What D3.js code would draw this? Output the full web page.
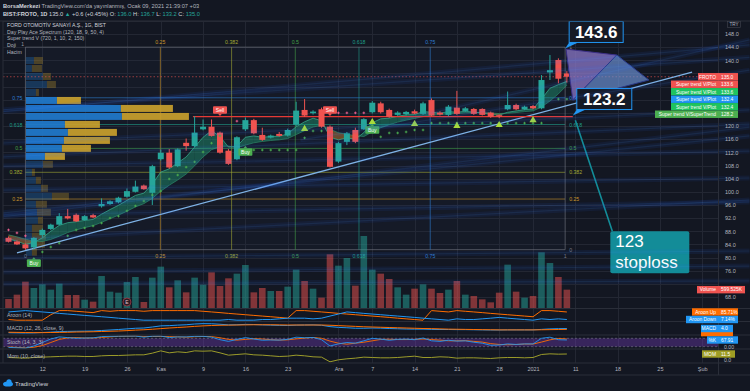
<!DOCTYPE html>
<html><head><meta charset="utf-8">
<script src="https://cdn.jsdelivr.net/npm/d3@7/dist/d3.min.js"></script>
<style>
html,body{margin:0;padding:0;background:#131722;}
svg{display:block;}
text{font-family:"Liberation Sans",Arial,sans-serif;}
</style></head><body>
<svg id="chart" width="750" height="391"></svg>
<script>
// ================= DATA =================
const opens  = [86.0,84.9,84.0,83.1,86.8,88.7,90.0,92.6,93.0,91.4,92.9,95.6,96.3,96.8,98.5,100.0,101.9,99.7,109.9,111.9,107.8,114.9,113.9,119.0,119.8,118.0,112.5,109.9,119.0,121.8,117.3,116.5,117.6,117.1,120.4,124.9,123.9,125.1,119.8,109.2,115.2,118.8,119.0,124.2,126.9,124.9,123.4,123.6,124.5,123.7,127.9,124.1,123.4,125.6,124.6,125.2,125.2,124.1,123.3,125.1,126.4,125.1,126.1,125.4,136.3,140.1,136.0];
const highs  = [86.4,85.2,84.3,86.2,88.8,90.3,93.5,94.8,93.4,92.9,93.3,98.0,97.4,98.5,101.0,103.4,102.2,108.2,112.8,113.0,113.2,116.2,123.0,122.0,122.0,118.3,113.0,116.9,122.6,122.2,119.5,117.4,118.2,119.2,127.4,128.2,124.8,125.6,120.2,115.2,118.2,119.5,122.4,127.6,127.4,125.3,124.5,124.6,125.0,127.4,128.4,124.5,126.4,130.7,125.8,125.5,125.4,124.4,123.5,130.5,126.8,126.2,126.4,135.5,141.6,140.6,136.7];
const lows   = [84.6,83.8,82.4,82.5,86.2,88.3,89.8,91.6,90.8,91.2,92.0,95.2,96.0,96.5,98.2,99.8,100.6,96.0,109.5,107.0,107.5,112.5,113.6,118.7,116.8,111.6,108.2,109.6,118.5,117.5,115.5,116.2,116.8,116.8,120.0,122.8,123.5,119.5,107.4,108.8,114.2,114.8,118.8,123.8,123.8,122.5,123.1,123.2,123.6,123.4,123.0,123.2,123.0,123.4,124.3,123.4,123.2,122.5,122.4,124.8,124.8,124.8,125.1,125.1,134.0,133.0,133.2];
const closes = [84.8,84.0,82.8,86.0,88.4,90.0,92.6,91.9,91.0,92.6,92.2,96.3,97.1,98.2,100.2,101.6,100.8,107.8,111.9,107.4,112.9,113.9,118.0,119.8,117.0,111.9,108.5,116.6,121.8,117.8,115.8,117.1,117.0,118.8,124.7,123.2,124.4,119.8,107.6,114.8,117.8,115.2,122.1,127.1,124.2,122.8,124.1,124.3,123.8,126.9,123.2,123.5,125.9,123.7,125.4,123.7,123.4,122.8,122.9,126.4,125.1,125.9,125.4,134.0,137.0,134.4,135.0];
const volumes = [294,436,861,654,774,600,796,425,425,272,207,1046,534,501,850,1014,196,992,1352,676,905,512,992,763,1166,719,970,1123,1406,512,654,556,556,698,1253,883,632,338,1755,1384,1635,730,2354,1253,1123,948,676,436,632,774,632,491,600,883,436,392,283,185,501,1417,534,338,392,1820,1471,1014,599.525];

const fastBand = [85.6,85.0,84.0,84.6,86.0,88.0,89.8,90.6,90.9,91.3,91.6,93.2,94.6,95.9,97.4,98.9,99.6,102.4,106.0,107.0,108.8,110.6,113.6,116.6,118.6,116.8,113.6,113.8,116.6,117.0,116.6,116.8,116.9,117.6,119.8,121.3,122.4,121.6,116.6,115.8,116.4,116.0,118.0,121.0,122.2,122.4,123.0,123.4,123.5,124.4,124.2,123.9,124.4,124.2,124.5,124.2,124.0,123.5,123.3,124.2,124.6,125.0,125.2,128.2,131.5,132.6,133.6];
const slowBand = [86.9,86.3,85.6,85.0,84.9,85.5,86.5,87.6,88.4,89.1,89.7,90.7,91.8,92.9,94.1,95.4,96.4,98.0,100.2,102.0,103.6,105.4,107.9,110.6,112.8,113.8,113.9,113.4,114.2,114.9,115.3,115.6,115.8,116.2,117.4,118.6,119.7,120.2,119.0,118.0,117.5,117.1,116.8,118.2,119.5,120.4,121.2,121.8,122.3,122.9,123.3,123.5,123.7,123.8,124.0,124.1,124.1,124.0,123.8,123.9,124.1,124.4,124.6,125.8,127.6,129.8,132.4];
const trailStop = [88.4,87.5,86.6,null,81.7,83.2,84.4,86.6,88.4,89.0,89.6,90.5,92.0,92.6,94.2,95.7,97.2,99.0,100.2,103.9,105.1,107.5,109.1,112.1,114.8,117.0,null,121.5,null,112.7,112.7,112.7,112.7,112.7,112.7,116.4,118.5,118.5,124.0,124.0,124.0,124.0,124.0,null,116.7,117.9,117.9,118.2,118.8,118.8,120.9,120.9,120.9,120.9,120.9,120.9,120.9,120.9,120.9,120.9,120.9,120.9,120.9,120.9,null,128.2,128.2];
const trailDir  = [0,0,0,null,1,1,1,1,1,1,1,1,1,1,1,1,1,1,1,1,1,1,1,1,1,1,null,0,null,1,1,1,1,1,1,1,1,1,0,0,0,0,0,null,1,1,1,1,1,1,1,1,1,1,1,1,1,1,1,1,1,1,1,1,null,1,1];
const triangleIdx   = [35,43,48,53,58,62];
const trianglePrice = [119.4,121.5,120.9,120.3,120.6,122.1];
const signalIdx   = [3,25,28,38,43];
const signalType  = ['Buy','Sell','Buy','Sell','Buy'];
const signalPrice = [78.3,124.9,112.1,124.9,118.8];

const aroonUp   = [7,0,0,0,0,57,100,100,93,86,79,100,93,100,100,100,93,100,100,100,100,100,100,93,86,79,71,64,57,50,43,36,29,21,100,100,93,86,79,71,64,57,50,43,36,29,21,14,7,0,100,93,86,100,93,86,79,71,64,57,50,43,36,100,100,93,85.71];
const aroonDown = [86,93,100,93,86,79,71,64,57,50,43,36,29,21,14,7,0,0,0,0,0,0,0,0,0,0,7,0,0,0,7,7,14,21,21,21,14,21,43,64,86,79,71,64,57,50,43,36,29,21,14,7,0,14,7,7,14,21,29,21,14,7,0,14,7,14,7.14];
const macdLine  = [0.6,0.5,0.4,0.5,0.8,1.1,1.5,1.7,1.8,1.9,2.0,2.4,2.8,3.2,3.7,4.2,4.4,5.2,6.1,6.3,6.7,7.0,7.6,7.9,7.8,7.4,6.9,7.0,7.3,7.2,6.9,6.7,6.5,6.4,6.7,6.8,6.9,6.6,5.5,4.9,4.6,4.2,4.2,4.4,4.3,4.0,3.8,3.6,3.5,3.5,3.3,3.2,3.2,3.1,3.1,3.0,2.9,2.8,2.8,2.9,2.9,2.9,2.9,3.3,3.7,3.9,4.0];
const macdSignal= [1.0,0.9,0.8,0.7,0.7,0.8,0.9,1.0,1.2,1.3,1.4,1.6,1.8,2.0,2.3,2.7,3.0,3.4,3.9,4.4,4.8,5.2,5.7,6.1,6.4,6.6,6.7,6.8,6.9,7.0,7.0,7.0,6.9,6.8,6.8,6.8,6.8,6.8,6.6,6.3,6.0,5.7,5.4,5.2,5.0,4.8,4.6,4.4,4.2,4.0,3.9,3.7,3.5,3.4,3.3,3.2,3.1,3.0,2.9,2.9,2.9,2.9,2.9,3.0,3.1,3.2,3.3];
const stochK    = [15,12,10,25,50,75,90,85,80,82,83,92,94,95,96,96,88,95,96,85,90,90,94,94,88,70,58,72,85,75,66,68,67,72,88,84,86,70,25,40,50,45,62,80,74,66,72,74,70,82,62,58,66,60,62,52,45,30,32,40,36,40,40,80,88,70,67.91];
const stochD    = [18,15,12,16,28,50,72,83,85,82,82,86,90,94,95,96,93,93,93,92,90,88,91,93,92,84,72,67,72,77,75,70,67,69,76,81,86,80,60,45,38,45,52,62,72,73,71,71,72,75,71,67,62,62,63,58,53,42,36,34,36,39,39,53,69,79,75];
const momentum  = [1,0,-1,1,2,3,4,5,5,4,4,6,7,7,8,9,9,14,21,15,18,16,21,20,21,15,8,10,12,9,8,6,4,5,8,6,3,2,-12,-6,-3,-1,2,1,0,0,1,3,5,1,1,3,2,-1,0,0,-1,-2,0,1,1,0,1,10,12,11,11.5];

const priceTicks = [68,72,76,80,84,88,92,96,100,104,108,112,116,120,124,128,132,136,140,144,148,152];
const timeTickIdx    = [4,9,14,18,23,28,33,39,43,48,53,58,62,67,72,77,82];
const timeTickLabels = ["12","19","26","Kas","9","16","23","Ara","7","14","21","28","2021","11","18","25","Şub"];

const vpTop = 141.0, vpStep = 2.43;
const vpUp   = [8,6,17,21,10,31,95,96,39,42,38,36,19,17,6,10,15,26,10,11,12,6,6,7,6];
const vpDown = [9,10,8,9,3,24,52,67,35,49,46,29,20,10,3,5,7,17,11,14,5,11,14,12,5];
const vpValueArea = [5,12];

const gannLevels = [0,0.25,0.382,0.5,0.618,0.75,1];
const gannColors = ['#787b86','#c9952a','#a2a833','#43a047','#1f9d88','#2f7dd1','#787b86'];
const gannStart = [2,82.4], gannEnd = [65.8,144.0];

const glowLines = [[-1,110.6,87.6,120.6],[-1,107.8,87.6,112.4],[-1,100.5,87.6,104.2],[-1,92.9,87.6,96.9],[-1,79.9,87.6,82.0],[-1,75.6,87.6,77.4],[-1,72.0,87.6,72.9],[-1,124.9,87.6,140.9],[-1,92.3,87.6,119.7],[-1,85.3,87.6,97.5],[-1,114.8,87.6,124.9],[-1,124.3,87.6,144.7],[-1,93.5,87.6,117.0],[46.3,121.8,87.6,146.2],[34.5,115.8,87.6,137.0]];

const stopLevel = 122.85;
const trendLine = [1.0,81.4,80.8,136.4];

// ================= CHART =================
const W=750,H=391, PL=3, PR=718, PT=21, PB=308;
const FONT='"Liberation Sans",Arial,sans-serif';
const UP='#26a69a', DN='#ef5350';
const N = closes.length;
const svg=d3.select('#chart');
svg.append('rect').attr('width',W).attr('height',H).attr('fill','#131722');
const defs=svg.append('defs');
defs.append('clipPath').attr('id','mainClip').append('rect').attr('x',PL).attr('y',PT).attr('width',PR-PL).attr('height',PB-PT);
defs.append('clipPath').attr('id','wideClip').append('rect').attr('x',PL).attr('y',PT).attr('width',W-PL).attr('height',PB-PT);

const x=d3.scaleLinear().domain([0,66]).range([8.5,566.86]);
const y=d3.scaleLinear().domain([68,148]).range([297,34]);
const yVol=d3.scaleLinear().domain([0,d3.max(volumes)]).range([PB,236]);

// grid
const grid=svg.append('g');
grid.selectAll('line.gh').data(priceTicks).join('line').attr('class','gh')
  .attr('x1',PL).attr('x2',PR).attr('y1',d=>Math.round(y(d))+0.5).attr('y2',d=>Math.round(y(d))+0.5)
  .attr('stroke','#232733');
grid.selectAll('line.gv').data(timeTickIdx).join('line').attr('class','gv')
  .attr('x1',d=>Math.round(x(d))+0.5).attr('x2',d=>Math.round(x(d))+0.5).attr('y1',PT).attr('y2',363)
  .attr('stroke','#232733');

const main=svg.append('g').attr('clip-path','url(#mainClip)');

// gann box
const gx0=x(gannStart[0]), gx1=x(gannEnd[0]), gy0=y(gannStart[1]), gy1=y(gannEnd[1]);
main.append('rect').attr('x',gx0).attr('y',gy1).attr('width',gx1-gx0).attr('height',gy0-gy1).attr('fill','#2a3550').attr('fill-opacity',0.12);
gannLevels.forEach((l,k)=>{
  const gx=gx0+l*(gx1-gx0), gy=gy0+l*(gy1-gy0);
  main.append('line').attr('x1',gx).attr('x2',gx).attr('y1',gy1).attr('y2',gy0).attr('stroke',gannColors[k]).attr('stroke-opacity',0.6);
  main.append('line').attr('x1',gx0).attr('x2',gx1).attr('y1',gy).attr('y2',gy).attr('stroke',gannColors[k]).attr('stroke-opacity',0.6);
  const lab=String(l);
  const t=main.append('g').attr('font-size',5.2).attr('fill',gannColors[k]).attr('font-family',FONT);
  if(l>0&&l<1){ t.append('text').attr('x',gx).attr('y',gy1-3).attr('text-anchor','middle').text(lab); }
  t.append('text').attr('x',gx).attr('y',gy0+8).attr('text-anchor','middle').text(lab);
  if(l>0&&l<1){ t.append('text').attr('x',gx0-3).attr('y',gy+2).attr('text-anchor','end').text(lab); }
  t.append('text').attr('x',gx1+4).attr('y',gy+2).attr('text-anchor','start').text(lab);
});
main.append('text').attr('x',gx0-1.5).attr('y',gy1-0.8).attr('text-anchor','end').attr('font-size',5).attr('fill','#9598a1').attr('font-family',FONT).text('1');

// glow lines
const glow=svg.append('g').attr('clip-path','url(#wideClip)');
glowLines.forEach(([i0,p0,i1,p1])=>{
  glow.append('line').attr('x1',x(i0)).attr('y1',y(p0)).attr('x2',x(i1)).attr('y2',y(p1))
    .attr('stroke','#2962ff').attr('stroke-opacity',0.08).attr('stroke-width',5);
  glow.append('line').attr('x1',x(i0)).attr('y1',y(p0)).attr('x2',x(i1)).attr('y2',y(p1))
    .attr('stroke','#4f9bff').attr('stroke-opacity',0.1).attr('stroke-width',1.2);
});

// volume profile
const vpW=d3.scaleLinear().domain([0,163]).range([0,163]);
vpUp.forEach((u,k)=>{
  const pTop=vpTop-k*vpStep, pBot=pTop-vpStep;
  const yt=y(pTop), h=y(pBot)-y(pTop)-1;
  const inVA = k>=vpValueArea[0] && k<=vpValueArea[1];
  const op = inVA?0.92:0.3;
  main.append('rect').attr('x',gx0+0.5).attr('y',yt).attr('width',vpW(u)).attr('height',h).attr('fill','#2179cc').attr('fill-opacity',op);
  main.append('rect').attr('x',gx0+0.5+vpW(u)).attr('y',yt).attr('width',vpW(vpDown[k])).attr('height',h).attr('fill','#c9a02c').attr('fill-opacity',op);
});

// volume bars
main.selectAll('rect.vol').data(volumes).join('rect').attr('class','vol')
  .attr('x',(d,i)=>x(i)-3.3).attr('width',6.6)
  .attr('y',d=>yVol(d)).attr('height',d=>PB-yVol(d))
  .attr('fill',(d,i)=>closes[i]>=opens[i]?UP:DN).attr('fill-opacity',0.5);

// price line
main.append('line').attr('x1',PL).attr('x2',PR).attr('y1',y(closes[N-1])).attr('y2',y(closes[N-1]))
  .attr('stroke',DN).attr('stroke-opacity',0.6).attr('stroke-dasharray','1.5,2');

// ribbon
const rib=main.append('g');
function poly(pts,up){ rib.append('path').attr('d','M'+pts.map(p=>p.join(',')).join('L')+'Z')
  .attr('fill',up?'#1fa37a':'#c47a2c').attr('fill-opacity',up?0.42:0.5); }
for(let i=0;i<N-1;i++){
  const a0=fastBand[i],b0=slowBand[i],a1=fastBand[i+1],b1=slowBand[i+1];
  const d0=a0-b0,d1=a1-b1, X0=x(i),X1=x(i+1);
  if(d0*d1>=0){ poly([[X0,y(a0)],[X1,y(a1)],[X1,y(b1)],[X0,y(b0)]],(d0+d1)>=0); }
  else{ const t=d0/(d0-d1), Xc=X0+t*(X1-X0), Pc=a0+t*(a1-a0);
    poly([[X0,y(a0)],[Xc,y(Pc)],[X0,y(b0)]],d0>0); poly([[Xc,y(Pc)],[X1,y(a1)],[X1,y(b1)]],d1>0); }
}
rib.append('path').datum(fastBand).attr('d',d3.line().x((d,i)=>x(i)).y(d=>y(d))).attr('fill','none').attr('stroke','#3fbf9a').attr('stroke-width',0.8).attr('stroke-opacity',0.8);
rib.append('path').datum(slowBand).attr('d',d3.line().x((d,i)=>x(i)).y(d=>y(d))).attr('fill','none').attr('stroke','#2e8f6e').attr('stroke-width',0.8).attr('stroke-opacity',0.8);

// trend line & stop line
main.append('line').attr('x1',x(trendLine[0])).attr('y1',y(trendLine[1])).attr('x2',x(trendLine[2])).attr('y2',y(trendLine[3]))
  .attr('stroke','#7fb3e6').attr('stroke-width',1.3);
main.append('line').attr('x1',x(21.8)).attr('x2',x(66.7)).attr('y1',y(stopLevel)).attr('y2',y(stopLevel))
  .attr('stroke','#e53935').attr('stroke-width',1.2);

// candles
const cg=main.append('g');
cg.selectAll('line.wick').data(closes).join('line').attr('class','wick')
  .attr('x1',(d,i)=>x(i)).attr('x2',(d,i)=>x(i)).attr('y1',(d,i)=>y(highs[i])).attr('y2',(d,i)=>y(lows[i]))
  .attr('stroke',(d,i)=>d>=opens[i]?UP:DN).attr('stroke-width',1);
cg.selectAll('rect.body').data(closes).join('rect').attr('class','body')
  .attr('x',(d,i)=>x(i)-3).attr('width',6)
  .attr('y',(d,i)=>y(Math.max(d,opens[i])))
  .attr('height',(d,i)=>Math.max(1,Math.abs(y(d)-y(opens[i]))))
  .attr('fill',(d,i)=>d>=opens[i]?UP:DN);

// trailing dots
trailStop.forEach((v,i)=>{
  if(v==null) return;
  const c=trailDir[i]?'#4caf50':'#f06292';
  main.append('path').attr('d',`M${x(i)-1.3},${y(v)}h2.6M${x(i)},${y(v)-1.3}v2.6`).attr('stroke',c).attr('stroke-width',0.9);
});
// triangles
triangleIdx.forEach((ii,k)=>{
  const cx=x(ii), cy=y(trianglePrice[k]);
  main.append('path').attr('d',`M${cx-3.6},${cy+3}L${cx+3.6},${cy+3}L${cx},${cy-3.2}Z`).attr('fill','#a8dc3c');
});
// signals
signalIdx.forEach((ii,k)=>{
  const cx=x(ii), cy=y(signalPrice[k]), sell=signalType[k]==='Sell';
  const col=sell?'#ef5350':'#4caf50';
  main.append('rect').attr('x',cx-7).attr('y',cy-3.8).attr('width',14).attr('height',7.6).attr('rx',1).attr('fill',col);
  main.append('path').attr('d',sell?`M${cx-2},${cy+3.7}L${cx+2},${cy+3.7}L${cx},${cy+6}Z`:`M${cx-2},${cy-3.7}L${cx+2},${cy-3.7}L${cx},${cy-6}Z`).attr('fill',col);
  main.append('text').attr('x',cx).attr('y',cy+1.8).attr('text-anchor','middle').attr('font-size',5).attr('fill','#fff').attr('font-family',FONT).text(signalType[k]);
});
// earnings marker
main.append('circle').attr('cx',x(14)).attr('cy',302).attr('r',4).attr('fill','#2a1c24').attr('stroke','#a33a45').attr('stroke-width',0.8);
main.append('text').attr('x',x(14)).attr('y',303.8).attr('text-anchor','middle').attr('font-size',5).attr('fill','#e0c0c4').attr('font-family',FONT).text('E');

// drawings: triangles
const pX=[65.9,143.4], pA=[66.7,127.9], pB=[71.9,141.6], pC=[75.7,134.0];
const P=p=>[x(p[0]),y(p[1])];
main.append('path').attr('d','M'+[P(pX),P(pB),P(pA)].map(p=>p.join(',')).join('L')+'Z').attr('fill','#8b78c9').attr('fill-opacity',0.75).attr('stroke','#3b2f86').attr('stroke-width',1);
main.append('path').attr('d','M'+[P(pA),P(pB),P(pC)].map(p=>p.join(',')).join('L')+'Z').attr('fill','#6a8fd0').attr('fill-opacity',0.7).attr('stroke','#2a3a8a').attr('stroke-width',1);

// callouts
function callout(ai,ap,dx,dy,w,h,txt){
  const ax=x(ai), ay=y(ap), bx=ax+dx, by=ay+dy;
  main.append('path').attr('d',`M${bx},${by+h}L${bx+9},${by+h}L${ax},${ay}Z`).attr('fill','#2196f3');
  main.append('rect').attr('x',bx).attr('y',by).attr('width',w).attr('height',h).attr('fill','#151a26').attr('stroke','#2196f3').attr('stroke-width',1);
  main.append('text').attr('x',bx+w/2).attr('y',by+h/2+6).attr('text-anchor','middle').attr('font-size',17).attr('font-weight','bold').attr('fill','#fff').attr('font-family',FONT).text(txt);
}
callout(65.8,143.6,4,-27,54,21,'143.6');
callout(66.7,123.2,4,-27,55,21,'123.2');

// stoploss callout
const sAx=x(67.0), sAy=y(121.8);
main.append('line').attr('x1',sAx).attr('y1',sAy).attr('x2',sAx+37).attr('y2',sAy+111).attr('stroke','#138c98').attr('stroke-width',1.6);
main.append('rect').attr('x',sAx+35).attr('y',sAy+111).attr('width',79).attr('height',42).attr('rx',2).attr('fill','#138c98');
main.append('text').attr('x',sAx+40).attr('y',sAy+127.2).attr('font-size',17).attr('fill','#fff').attr('font-family',FONT).text('123');
main.append('text').attr('x',sAx+40).attr('y',sAy+147.7).attr('font-size',17).attr('fill','#fff').attr('font-family',FONT).text('stoploss');

// ================= SUB PANES =================
const aroonY=d3.scaleLinear().domain([0,100]).range([320.2,310.6]);
const macdY =d3.scaleLinear().domain([0,8]).range([333.5,323.5]);
const stochY=d3.scaleLinear().domain([0,100]).range([349.5,335.5]);
const momY  =d3.scaleLinear().domain([-12,11.5]).range([361.8,354]);
const sub=svg.append('g');
function ln(arr,sc,col,w){ sub.append('path').datum(arr).attr('d',d3.line().x((d,i)=>x(i)).y(d=>sc(d))).attr('fill','none').attr('stroke',col).attr('stroke-width',w||1); }
sub.append('rect').attr('x',PL).attr('y',stochY(80)).attr('width',PR-PL).attr('height',stochY(20)-stochY(80)).attr('fill','#7e3fc8').attr('fill-opacity',0.35);
[80,20].forEach(v=>sub.append('line').attr('x1',PL).attr('x2',PR).attr('y1',stochY(v)).attr('y2',stochY(v)).attr('stroke','#787b86').attr('stroke-dasharray','2,2').attr('stroke-width',0.6));
ln(aroonUp,aroonY,'#ff6d00'); ln(aroonDown,aroonY,'#2196f3');
ln(macdLine,macdY,'#2196f3'); ln(macdSignal,macdY,'#ff6d00');
ln(stochD,stochY,'#ff6d00',0.9); ln(stochK,stochY,'#2196f3',0.9);
ln(momentum,momY,'#9c9c2a',1);

const labs=[['Aroon (14)',316.5],['MACD (12, 26, close, 9)',330],['Stoch (14, 3, 3)',344],['Mom (10, close)',358]];
labs.forEach(([t,yy])=>sub.append('text').attr('x',7).attr('y',yy).attr('font-size',5.3).attr('fill','#b2b5be').attr('font-family',FONT).text(t));

[PT,308.5,321.5,335,349,363,375].forEach(v=>svg.append('line').attr('x1',0).attr('x2',W).attr('y1',v).attr('y2',v).attr('stroke','#2a2e39').attr('stroke-width',1));
svg.append('line').attr('x1',PR+0.5).attr('x2',PR+0.5).attr('y1',PT).attr('y2',375).attr('stroke','#2a2e39');
svg.append('line').attr('x1',PL).attr('x2',PL).attr('y1',PT).attr('y2',363).attr('stroke','#2a2e39');

// tags (computed first so axis labels under them can be hidden)
const tagList=[];
const stTags=[['FROTO',closes[N-1],698,'#ef5350'],['Super trend V/Plot',fastBand[N-1],671,'#ef5350'],['Super trend V/Plot',fastBand[N-1],671,'#1fc35f'],['Super trend V/Plot',slowBand[N-1],671,'#2196f3'],['Super trend V/Plot',slowBand[N-1],671,'#1fc35f'],['Super trend V/SuperTrend',trailStop[N-1],655,'#4caf50']];
let prevY=-1e9;
stTags.forEach(([l,v,x0,c])=>{ const yy=Math.max(y(v),prevY+7.5); prevY=yy; tagList.push([yy,x0,738,c,l,v.toFixed(1)]); });
tagList.push([yVol(volumes[N-1]),697,745,'#ef5350','Volume','599.525K']);

// price axis
defs.append('clipPath').attr('id','axClip').append('rect').attr('x',PR).attr('y',PT-1).attr('width',W-PR).attr('height',PB-PT+1);
const visTicks=priceTicks.filter(p=>y(p)>28 && !tagList.some(t=>Math.abs(t[0]-y(p))<7));
const ga=svg.append('g').attr('clip-path','url(#axClip)').append('g').attr('transform',`translate(${PR},0)`)
  .call(d3.axisRight(y).tickValues(visTicks).tickFormat(d3.format('.1f')).tickSize(0).tickPadding(7));
ga.select('.domain').remove();
ga.attr('font-size',5.5).attr('font-family',FONT);
ga.selectAll('text').attr('fill','#b2b5be');

// time axis
const gt=svg.append('g').attr('transform','translate(0,363)')
  .call(d3.axisBottom(x).tickValues(timeTickIdx).tickFormat((d,k)=>timeTickLabels[k]).tickSize(0).tickPadding(4));
gt.select('.domain').remove();
gt.attr('font-size',5.5).attr('font-family',FONT);
gt.selectAll('text').attr('fill','#b2b5be');

function tag(yc,x0,x1,fill,label,val,tc){
  svg.append('rect').attr('x',x0).attr('y',yc-3.7).attr('width',x1-x0).attr('height',7.4).attr('fill',fill);
  if(label==null) return;
  svg.append('text').attr('x',PR-2).attr('y',yc+1.8).attr('text-anchor','end').attr('font-size',4.9).attr('fill',tc||'#fff').attr('font-family',FONT).text(label);
  svg.append('text').attr('x',PR+3).attr('y',yc+1.8).attr('font-size',4.9).attr('fill',tc||'#fff').attr('font-family',FONT).text(val);
}
tagList.forEach(t=>tag(...t));
tag(aroonY(aroonUp[N-1]),692,738,'#ff6d00','Aroon Up',aroonUp[N-1].toFixed(2)+'%');
tag(aroonY(aroonDown[N-1]),686,738,'#2196f3','Aroon Down',aroonDown[N-1].toFixed(2)+'%');
tag(332.6,701,733,'#ff6d00',null,null);
tag(macdY(macdLine[N-1]),701,733,'#2196f3','MACD',macdLine[N-1].toFixed(1));
tag(stochY(stochK[N-1]),707,738,'#2196f3','%K',stochK[N-1].toFixed(2));
svg.append('text').attr('x',724).attr('y',349.2).attr('font-size',5.2).attr('fill','#b2b5be').attr('font-family',FONT).text('0.00');
tag(momY(momentum[N-1]),702,735,'#9e9d24','MOM',momentum[N-1].toFixed(1));
svg.append('text').attr('x',724).attr('y',361.5).attr('font-size',5.2).attr('fill','#b2b5be').attr('font-family',FONT).text('0.0');

// TRY box
svg.append('rect').attr('x',727.5).attr('y',21.5).attr('width',13).attr('height',6).attr('fill','#131722').attr('stroke','#434651').attr('stroke-width',0.6);
svg.append('text').attr('x',734).attr('y',26.3).attr('text-anchor','middle').attr('font-size',4.6).attr('fill','#b2b5be').attr('font-family',FONT).text('TRY');

// header
const h1=svg.append('text').attr('x',3).attr('y',7.5).attr('font-size',5.7).attr('font-family',FONT).attr('fill','#b2b5be');
h1.append('tspan').attr('font-weight','bold').attr('fill','#d1d4dc').text('BorsaMerkezi');
h1.append('tspan').text(" TradingView.com'da yayınlanmış, Ocak 09, 2021 21:39:07 +03");
const h2=svg.append('text').attr('x',3).attr('y',16).attr('font-size',5.7).attr('font-family',FONT).attr('fill','#d1d4dc');
h2.append('tspan').attr('font-weight','bold').text('BIST:FROTO, 1D');
h2.append('tspan').text('  135.0 ');
h2.append('tspan').attr('fill',UP).text('▲');
h2.append('tspan').text(' +0.6 (+0.45%)  O: ');
h2.append('tspan').attr('fill',UP).text('136.0');
h2.append('tspan').text(' H: ');
h2.append('tspan').attr('fill',UP).text('136.7');
h2.append('tspan').text(' L: ');
h2.append('tspan').attr('fill',UP).text('133.2');
h2.append('tspan').text(' C: ');
h2.append('tspan').attr('fill',UP).text('135.0');

// legend
const legend=['FORD OTOMOTİV SANAYİ A.Ş., 1G, BIST','Day Play Ace Spectrum (120, 18, 9, 50, 4)','Super trend V (720, 1, 10, 2, 150)','Doji','Hacim'];
const legY=[26.5,33.5,40.3,47.3,54.3];
legend.forEach((t,k)=>svg.append('text').attr('x',7).attr('y',legY[k]).attr('font-size',5.2).attr('font-family',FONT).attr('fill',k===0?'#d1d4dc':'#b2b5be').text(t));

// logo
const lg=svg.append('g');
lg.append('ellipse').attr('cx',8).attr('cy',384).attr('rx',5).attr('ry',2.6).attr('fill','#2196f3');
lg.append('circle').attr('cx',9).attr('cy',381.8).attr('r',2.6).attr('fill','#2196f3');
svg.append('text').attr('x',15).attr('y',386).attr('font-size',6).attr('font-family',FONT).attr('fill','#d1d4dc').text('TradingView');
</script>
</body></html>
